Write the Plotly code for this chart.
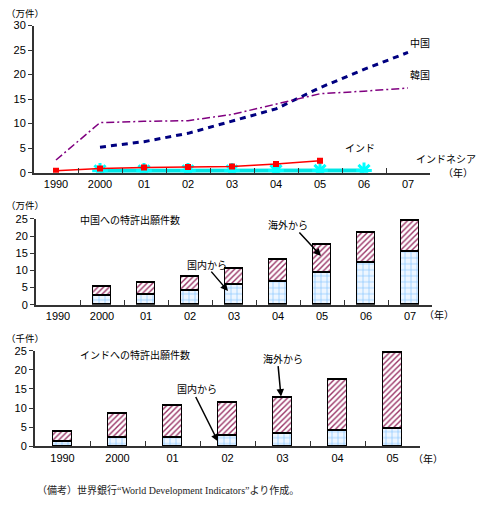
import plotly.graph_objects as go

W, H = 478, 509

# ---- data ----
years1 = ["1990", "2000", "01", "02", "03", "04", "05", "06", "07"]
china_total = [None, 5.19, 6.32, 8.02, 10.53, 13.01, 17.33, 21.05, 24.52]
korea_total = [2.58, 10.20, 10.46, 10.61, 11.87, 14.01, 16.09, 16.62, 17.25]
india_total = [0.38, 0.85, 1.06, 1.15, 1.26, 1.75, 2.45, None, None]
indonesia_total = [None, 0.40, 0.40, 0.39, 0.38, 0.42, 0.46, 0.46, None]

china_years = ["1990", "2000", "01", "02", "03", "04", "05", "06", "07"]
china_domestic = [None, 2.56, 3.00, 3.98, 5.68, 6.58, 9.35, 12.23, 15.31]
china_foreign = [None, 2.63, 3.32, 4.04, 4.85, 6.43, 7.98, 8.82, 9.21]

india_years = ["1990", "2000", "01", "02", "03", "04", "05"]
india_domestic = [1.15, 2.18, 2.37, 2.69, 3.22, 3.98, 4.52]
india_foreign = [2.67, 6.32, 8.22, 8.77, 9.39, 13.49, 19.98]

FONT = "Liberation Sans, Noto Sans CJK JP"
JP = "Noto Sans CJK JP"


def X(px):
    return px / W


def Y(py):
    return 1 - py / H


fig = go.Figure()

# ---- chart 1 lines ----
fig.add_trace(go.Scatter(x=years1, y=china_total, mode="lines", xaxis="x", yaxis="y",
                         line=dict(color="#000080", width=3, dash="6px,5px"), showlegend=False))
fig.add_trace(go.Scatter(x=years1, y=korea_total, mode="lines", xaxis="x", yaxis="y",
                         line=dict(color="#800080", width=1.5, dash="8px,3px,2px,3px"), showlegend=False))
fig.add_trace(go.Scatter(x=years1, y=indonesia_total, mode="lines+markers", xaxis="x", yaxis="y",
                         line=dict(color="#00e5e5", width=4),
                         marker=dict(symbol="asterisk-open", size=13, color="#00ffff",
                                     line=dict(color="#00ffff", width=3)),
                         showlegend=False))
fig.add_trace(go.Scatter(x=years1, y=india_total, mode="lines+markers", xaxis="x", yaxis="y",
                         line=dict(color="#ff0000", width=1.5),
                         marker=dict(symbol="square", size=6, color="#ff0000"), showlegend=False))

# ---- chart 2 bars ----
brick = dict(shape="+", fgcolor="#7fbfff", bgcolor="#eef6ff", size=6, solidity=0.2, fillmode="replace")
hatch = dict(shape="/", fgcolor="#993366", bgcolor="#ffffff", size=4, solidity=0.35, fillmode="replace")

fig.add_trace(go.Bar(x=china_years, y=china_domestic, xaxis="x2", yaxis="y2", width=0.41,
                     marker=dict(color="#eef6ff", pattern=brick, line=dict(color="#000", width=1.5)),
                     showlegend=False))
fig.add_trace(go.Bar(x=china_years, y=china_foreign, xaxis="x2", yaxis="y2", width=0.41,
                     marker=dict(color="#ffffff", pattern=hatch, line=dict(color="#000", width=1.5)),
                     showlegend=False))

# ---- chart 3 bars ----
fig.add_trace(go.Bar(x=india_years, y=india_domestic, xaxis="x3", yaxis="y3", width=0.35,
                     marker=dict(color="#eef6ff", pattern=brick, line=dict(color="#000", width=1.5)),
                     showlegend=False))
fig.add_trace(go.Bar(x=india_years, y=india_foreign, xaxis="x3", yaxis="y3", width=0.35,
                     marker=dict(color="#ffffff", pattern=hatch, line=dict(color="#000", width=1.5)),
                     showlegend=False))

xcommon = dict(type="category", showgrid=False, zeroline=False, showline=True, linecolor="#333",
               linewidth=2, ticks="inside", tickson="boundaries", ticklen=5, tickcolor="#333",
               tickfont=dict(family=FONT, size=11, color="#000"), fixedrange=True)
ycommon = dict(showgrid=False, zeroline=False, showline=True, linecolor="#333", linewidth=2,
               ticks="outside", ticklen=4, tickcolor="#333",
               tickfont=dict(family=FONT, size=11, color="#000"), fixedrange=True)

fig.update_layout(
    width=W, height=H, margin=dict(l=0, r=0, t=0, b=0),
    paper_bgcolor="white", plot_bgcolor="white", barmode="stack", bargap=0,
    xaxis=dict(**xcommon, domain=[X(34), X(430)], anchor="y", categoryorder="array",
               categoryarray=years1, range=[-0.5, 8.5]),
    yaxis=dict(**ycommon, domain=[Y(170.7), Y(20)], anchor="x", range=[0, 30], dtick=5),
    xaxis2=dict(**xcommon, domain=[X(36), X(432)], anchor="y2", categoryorder="array",
                categoryarray=china_years, range=[-0.5, 8.5]),
    yaxis2=dict(**ycommon, domain=[Y(306), Y(218)], anchor="x2", range=[0, 25], dtick=5),
    xaxis3=dict(**xcommon, domain=[X(35), X(420)], anchor="y3", categoryorder="array",
                categoryarray=india_years, range=[-0.5, 6.5]),
    yaxis3=dict(**ycommon, domain=[Y(451), Y(353)], anchor="x3", range=[0, 25], dtick=5),
)


def txt(px, py, s, size=10, family=JP, anchor="left", color="#000"):
    fig.add_annotation(x=X(px), y=Y(py), xref="paper", yref="paper", text=s, showarrow=False,
                       xanchor=anchor, yanchor="middle", font=dict(family=family, size=size, color=color))


def arrow(x0, y0, x1, y1):
    fig.add_annotation(x=X(x1), y=Y(y1), xref="paper", yref="paper", ax=x0 - x1, ay=y0 - y1,
                       axref="pixel", ayref="pixel", text="", showarrow=True, arrowhead=2,
                       arrowsize=1, arrowwidth=1.5, arrowcolor="#000")


# chart 1 texts
txt(4, 7, "（万件）", 9.5)
txt(408, 37, "中国", 10)
txt(408, 70, "韓国", 10)
txt(343, 145, "インド", 10)
txt(414, 156, "インドネシア", 10)
txt(441, 171, "（年）", 10)

# chart 2 texts
txt(4, 204, "（万件）", 9.5)
txt(78, 219, "中国への特許出願件数", 10)
txt(185, 265, "国内から", 10)
arrow(210, 271, 228, 292)
txt(266, 224, "海外から", 10)
arrow(298, 231, 321, 256)
txt(422, 316, "（年）", 10)

# chart 3 texts
txt(4, 340, "（千件）", 9.5)
txt(78, 357, "インドへの特許出願件数", 10)
txt(175, 392, "国内から", 10)
arrow(195, 400, 218, 446)
txt(261, 361, "海外から", 10)
arrow(278, 368, 281, 400)
txt(411, 463, "（年）", 10)

# footnote
txt(35, 496, "（備考）世界銀行“World Development Indicators”より作成。", 10,
    family="Liberation Serif, Noto Sans CJK JP", color="#222")

fig.write_html("out.html")
